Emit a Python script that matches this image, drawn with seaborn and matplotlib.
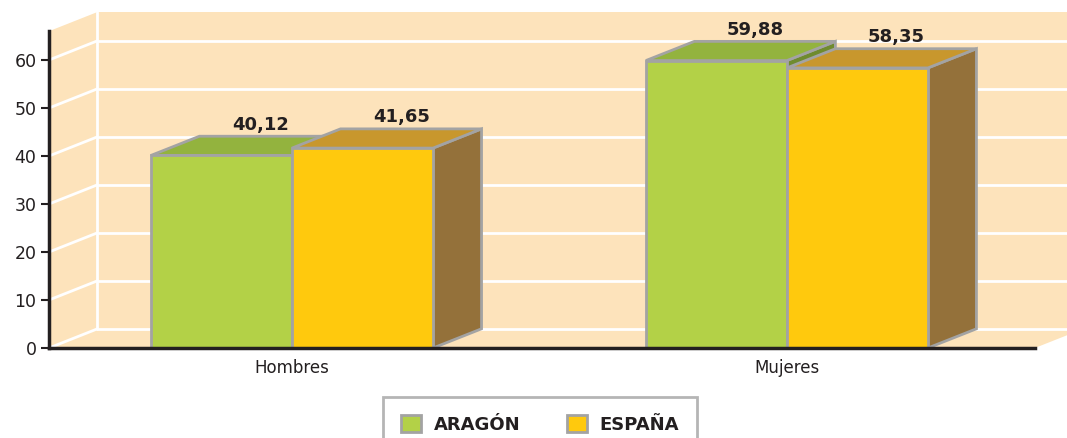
import numpy as np
import pandas as pd
import matplotlib
matplotlib.use('Agg')
import matplotlib.pyplot as plt
from matplotlib.patches import Polygon, Patch
import seaborn as sns

# data
sexos = ['Hombres', 'Mujeres']
regiones = ['ARAGÓN', 'ESPAÑA']
aragon = [40.12, 59.88]
espana = [41.65, 58.35]
etiquetas = [['40,12', '59,88'], ['41,65', '58,35']]

df = pd.DataFrame({
    'sexo': sexos * 2,
    'region': [regiones[0]] * 2 + [regiones[1]] * 2,
    'valor': aragon + espana,
})

# colours: front, top, side
caras = {
    'ARAGÓN': ('#B3D147', '#93B33E', '#6F8B2E'),
    'ESPAÑA': ('#FFC90D', '#C8972D', '#94713A'),
}
beige = '#FDE3BB'
borde = '#A3A3A3'
oscuro = '#231F20'

sns.set_style('white')
plt.rcParams['font.family'] = ['DejaVu Sans']

fig = plt.figure(figsize=(10.67, 4.38), dpi=100)
ax = fig.add_axes([49 / 1067, 90 / 438, 1018 / 1067, 336 / 438])

x0, x1 = -0.491, 1.501
ymax = 70
dx, dy = 0.098, 4.0   # depth offset of the 3d look (data units)

# front faces
sns.barplot(data=df, x='sexo', y='valor', hue='region', order=sexos,
            hue_order=regiones, palette={r: caras[r][0] for r in regiones},
            saturation=1, width=0.57, edgecolor=borde, linewidth=2,
            legend=False, ax=ax)
ax.set_xlim(x0, 1.566)
ax.set_ylim(0, ymax)

# walls and floor
ax.add_patch(Polygon([(x0 + dx, dy), (2, dy), (2, ymax), (x0 + dx, ymax)],
                     closed=True, fc=beige, ec='none', zorder=0))
ax.add_patch(Polygon([(x0, 0), (x0 + dx, dy), (x0 + dx, ymax), (x0, ymax - dy)],
                     closed=True, fc=beige, ec='none', zorder=0))
ax.add_patch(Polygon([(x0, 0), (x1, 0), (x1 + dx, dy), (x0 + dx, dy)],
                     closed=True, fc=beige, ec='none', zorder=0))
for v in range(0, 70, 10):
    ax.plot([x0 + dx, 2], [v + dy, v + dy], color='white', lw=2, zorder=1)
    ax.plot([x0, x0 + dx], [v, v + dy], color='white', lw=2, zorder=1)
ax.plot([x0 + dx, x0 + dx], [dy, ymax], color='white', lw=2, zorder=1)

for i, (cont, reg) in enumerate(zip(ax.containers, regiones)):
    for j, p in enumerate(cont.patches):
        x, w, h = p.get_x(), p.get_width(), p.get_height()
        z = 3 + 3 * i
        side = Polygon([(x + w, 0), (x + w + dx, dy), (x + w + dx, h + dy), (x + w, h)],
                       closed=True, fc=caras[reg][2], ec=borde, lw=2, zorder=z)
        top = Polygon([(x, h), (x + w, h), (x + w + dx, h + dy), (x + dx, h + dy)],
                      closed=True, fc=caras[reg][1], ec=borde, lw=2, zorder=z + 1)
        ax.add_patch(side)
        ax.add_patch(top)
        p.set_zorder(z + 2)
        ax.text(x + w / 2 + dx * 0.8, h + dy + 0.5, etiquetas[i][j], ha='center',
                va='bottom', fontsize=13, fontweight='bold', color=oscuro, zorder=20)

# axes
for s in ['top', 'right']:
    ax.spines[s].set_visible(False)
ax.spines['left'].set_bounds(0, ymax - dy)
ax.spines['bottom'].set_bounds(x0, x1)
for s in ['left', 'bottom']:
    ax.spines[s].set_color(oscuro)
    ax.spines[s].set_linewidth(2.5)
    ax.spines[s].set_zorder(15)
ax.set_yticks(range(0, 70, 10))
ax.tick_params(axis='y', length=6, width=1.5, color=oscuro, labelsize=12.5,
               labelcolor=oscuro, pad=3, left=True)
ax.tick_params(axis='x', length=0, labelsize=12, labelcolor=oscuro, pad=8)
ax.set_xlabel('')
ax.set_ylabel('')
ax.set_facecolor('white')

handles = [Patch(fc=caras[r][0], ec=borde, lw=2, label=r) for r in regiones]
leg = fig.legend(handles=handles, loc='upper center', bbox_to_anchor=(540 / 1067, 50 / 438),
                 ncol=2, frameon=True, fancybox=False, borderpad=1.0,
                 handlelength=1.1, handleheight=1.1, handletextpad=0.7,
                 columnspacing=2.6, prop={'weight': 'bold', 'size': 13})
leg.get_frame().set_edgecolor(borde)
leg.get_frame().set_linewidth(2)
for t in leg.get_texts():
    t.set_color(oscuro)

fig.savefig('out.png', dpi=100)
